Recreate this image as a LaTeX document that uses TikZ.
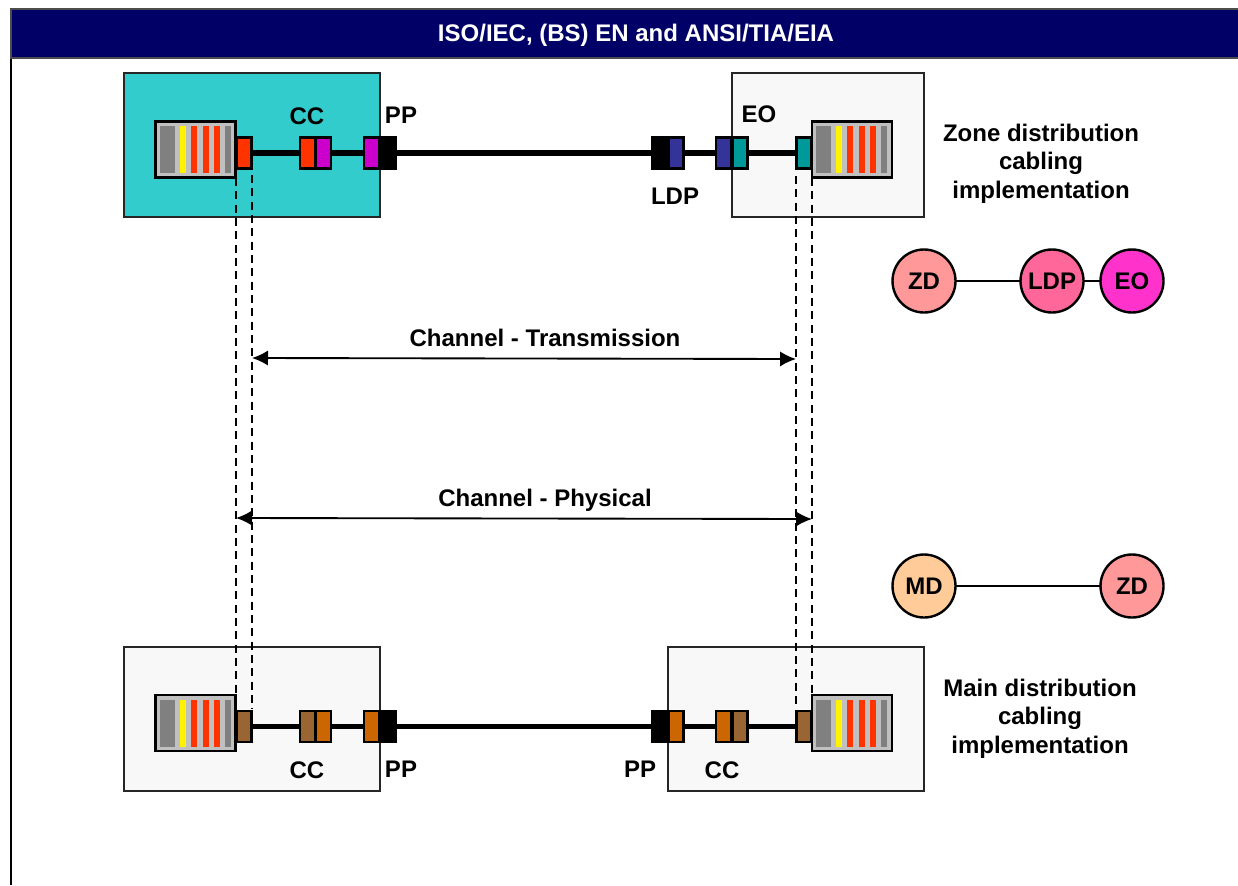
\documentclass[tikz,border=0pt]{standalone}
\usepackage{fontspec}
\setmainfont{Liberation Sans}
\usetikzlibrary{arrows.meta}
\definecolor{navyhead}{HTML}{000066}
\definecolor{tealbox}{HTML}{33CCCC}
\definecolor{greybox}{HTML}{F8F8F8}
\definecolor{rjbody}{HTML}{C0C0C0}
\definecolor{rjgrey}{HTML}{808080}
\definecolor{rjred}{HTML}{FF3300}
\definecolor{cpurple}{HTML}{CC00CC}
\definecolor{cblue}{HTML}{333399}
\definecolor{cteal}{HTML}{009999}
\definecolor{cbrown}{HTML}{996633}
\definecolor{corange}{HTML}{CC6600}
\definecolor{czd}{HTML}{FF9999}
\definecolor{cldp}{HTML}{FF6699}
\definecolor{ceo}{HTML}{FF33CC}
\definecolor{cmd}{HTML}{FFCC99}
\tikzset{
  areabox/.style={draw=black!85,line width=1.5pt,rectangle,outer sep=0pt,inner sep=0pt,minimum width=#1*0.75pt,minimum height=143.5*0.75pt,anchor=north west},
  plug/.style={draw=black,line width=1.8pt,rectangle,outer sep=0pt,inner sep=0pt,minimum width=15*0.75pt,minimum height=31*0.75pt,fill=#1},
  rjack/.style={draw=black,line width=1.9pt,rectangle,fill=rjbody,outer sep=0pt,inner sep=0pt,minimum width=80*0.75pt,minimum height=56*0.75pt,anchor=north west},
  cable/.style={black,line width=4.2pt},
  dashline/.style={black,line width=1.4pt,dash pattern=on 6pt off 4pt},
  dimline/.style={black,line width=1.4pt,{Latex[length=12pt,width=11.5pt]}-{Latex[length=12pt,width=11.5pt]}},
  lbl/.style={font=\fontsize{18pt}{21.4pt}\selectfont\bfseries,align=center,inner sep=0pt},
  hub/.style={circle,draw=black,line width=1.8pt,fill=#1,minimum size=63*0.75pt,inner sep=0pt,outer sep=0pt,font=\fontsize{18pt}{20pt}\selectfont\bfseries},
  link/.style={black,line width=1.6pt}
}
% stripes of a jack: left x, top y of the coloured stripes
\newcommand{\jackstripes}[2]{%
  \begin{scope}[shift={(#1,#2)}]
    \fill[rjgrey] (0,0) rectangle (15,47);
    \fill[yellow] (20,0) rectangle (26,47);
    \fill[rjred] (31,0) rectangle (37,47);
    \fill[rjred] (43,0) rectangle (49,47);
    \fill[rjred] (54,0) rectangle (60,47);
    \fill[rjgrey] (65,0) rectangle (71,47);
  \end{scope}}
\begin{document}
\begin{tikzpicture}[x=0.75pt,y=-0.75pt]
\useasboundingbox (0,0) rectangle (1238,885);
\fill[white] (0,0) rectangle (1238,885);
% frame and header
\draw[black,line width=1.5pt] (11,885) -- (11,58);
\fill[navyhead] (11,9) rectangle (1238,58);
\draw[black!70,line width=1.5pt] (1238,9) -- (11,9) -- (11,58) -- (1238,58);
\node[lbl,text=white] (head) at (636,35) {ISO/IEC, (BS) EN and ANSI/TIA/EIA};
% area boxes
\node[areabox=256.5,fill=tealbox] (boxTL) at (123.5,73) {};
\node[areabox=192,fill=greybox] (boxTR) at (732,73) {};
\node[areabox=256.5,fill=greybox] (boxBL) at (123.5,647) {};
\node[areabox=256.5,fill=greybox] (boxBR) at (667.5,647) {};
% top row equipment
\node[rjack] (jTL) at (155.5,121.5) {};
\jackstripes{160}{126}
\node[rjack] (jTR) at (812,121.5) {};
\jackstripes{816}{126}
\node[plug=rjred] (a1) at (244,153) {};
\node[plug=rjred] (a2) at (307.5,153) {};
\node[plug=cpurple] (a3) at (323.5,153) {};
\node[plug=cpurple] (a4) at (371.5,153) {};
\node[plug=black] (a5) at (388,153) {};
\node[plug=black] (a6) at (659.5,153) {};
\node[plug=cblue] (a7) at (676,153) {};
\node[plug=cblue] (a8) at (723.5,153) {};
\node[plug=cteal] (a9) at (740,153) {};
\node[plug=cteal] (a10) at (804,153) {};
\draw[cable] (a1) -- (a2);
\draw[cable] (a3) -- (a4);
\draw[cable] (a5) -- (a6);
\draw[cable] (a7) -- (a8);
\draw[cable] (a9) -- (a10);
% bottom row equipment
\node[rjack] (jBL) at (155.5,695) {};
\jackstripes{160}{699.5}
\node[rjack] (jBR) at (812,695) {};
\jackstripes{816}{699.5}
\node[plug=cbrown] (b1) at (244,726.5) {};
\node[plug=cbrown] (b2) at (307.5,726.5) {};
\node[plug=corange] (b3) at (323.5,726.5) {};
\node[plug=corange] (b4) at (371.5,726.5) {};
\node[plug=black] (b5) at (388,726.5) {};
\node[plug=black] (b6) at (659.5,726.5) {};
\node[plug=corange] (b7) at (676,726.5) {};
\node[plug=corange] (b8) at (723.5,726.5) {};
\node[plug=cbrown] (b9) at (740,726.5) {};
\node[plug=cbrown] (b10) at (804,726.5) {};
\draw[cable] (b1) -- (b2);
\draw[cable] (b3) -- (b4);
\draw[cable] (b5) -- (b6);
\draw[cable] (b7) -- (b8);
\draw[cable] (b9) -- (b10);
% dashed verticals
\coordinate (dA1) at (236,178);
\coordinate (dA2) at (236,694);
\coordinate (dB1) at (252,175);
\coordinate (dB2) at (252,709);
\coordinate (dC1) at (796,176);
\coordinate (dC2) at (796,709);
\coordinate (dD1) at (812,178);
\coordinate (dD2) at (812,694);
\draw[dashline] (dA1) -- (dA2);
\draw[dashline] (dB1) -- (dB2);
\draw[dashline] (dC1) -- (dC2);
\draw[dashline] (dD1) -- (dD2);
% dimension arrows
\coordinate (t1) at (252,358);
\coordinate (t2) at (796,359);
\coordinate (p1) at (236,518);
\coordinate (p2) at (812,519);
\draw[dimline] (t1) -- (t2);
\draw[dimline] (p1) -- (p2);
\node[lbl] (tTrans) at (545,338) {Channel - Transmission};
\node[lbl] (tPhys) at (545,500) {Channel - Physical};
% labels
\node[lbl] (lCC1) at (307,116) {CC};
\node[lbl] (lPP1) at (401,115) {PP};
\node[lbl] (lLDP) at (675,196) {LDP};
\node[lbl] (lEO) at (759,114) {EO};
\node[lbl] (lCC2) at (307,770) {CC};
\node[lbl] (lPP2) at (401,769) {PP};
\node[lbl] (lPP3) at (640,769) {PP};
\node[lbl] (lCC3) at (722,770) {CC};
\node[lbl] (lZone) at (1041,163.5) {Zone distribution\\cabling\\implementation};
\node[lbl] (lMain) at (1040,718.5) {Main distribution\\cabling\\implementation};
% hierarchy diagrams
\node[hub=czd] (hZ1) at (924,281) {ZD};
\node[hub=cldp] (hL) at (1052,281) {LDP};
\node[hub=ceo] (hE) at (1132,281) {EO};
\node[hub=cmd] (hM) at (924,586) {MD};
\node[hub=czd] (hZ2) at (1132,586) {ZD};
\draw[link] (hZ1) -- (hL);
\draw[link] (hL) -- (hE);
\draw[link] (hM) -- (hZ2);
\end{tikzpicture}
\end{document}
